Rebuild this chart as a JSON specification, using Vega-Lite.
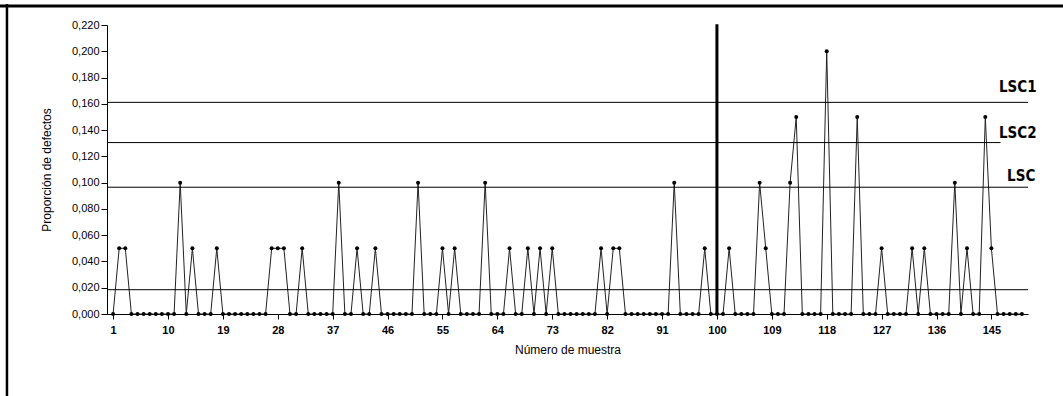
{
  "$schema": "https://vega.github.io/schema/vega-lite/v6.json",
  "width": 921,
  "height": 289,
  "autosize": "none",
  "padding": {"left": 107, "top": 25, "right": 35, "bottom": 82},
  "background": "white",
  "data": {"values": [{}]},
  "config": {
    "view": {"stroke": null},
    "font": "Liberation Sans",
    "locale": {
      "number": {"decimal": ",", "thousands": ".", "grouping": [3], "currency": ["", " €"]}
    },
    "axis": {
      "grid": false,
      "domainColor": "#000",
      "tickColor": "#000",
      "labelColor": "#000",
      "titleColor": "#000",
      "labelFont": "Liberation Sans",
      "titleFont": "Liberation Sans",
      "labelFontSize": 11,
      "titleFontSize": 12,
      "titleFontWeight": "normal",
      "labelOverlap": false
    }
  },
  "datasets": {
    "muestras": [
      {"muestra": 1, "p": 0}, {"muestra": 2, "p": 0.05}, {"muestra": 3, "p": 0.05}, {"muestra": 4, "p": 0}, {"muestra": 5, "p": 0},
      {"muestra": 6, "p": 0}, {"muestra": 7, "p": 0}, {"muestra": 8, "p": 0}, {"muestra": 9, "p": 0}, {"muestra": 10, "p": 0},
      {"muestra": 11, "p": 0}, {"muestra": 12, "p": 0.1}, {"muestra": 13, "p": 0}, {"muestra": 14, "p": 0.05}, {"muestra": 15, "p": 0},
      {"muestra": 16, "p": 0}, {"muestra": 17, "p": 0}, {"muestra": 18, "p": 0.05}, {"muestra": 19, "p": 0}, {"muestra": 20, "p": 0},
      {"muestra": 21, "p": 0}, {"muestra": 22, "p": 0}, {"muestra": 23, "p": 0}, {"muestra": 24, "p": 0}, {"muestra": 25, "p": 0},
      {"muestra": 26, "p": 0}, {"muestra": 27, "p": 0.05}, {"muestra": 28, "p": 0.05}, {"muestra": 29, "p": 0.05}, {"muestra": 30, "p": 0},
      {"muestra": 31, "p": 0}, {"muestra": 32, "p": 0.05}, {"muestra": 33, "p": 0}, {"muestra": 34, "p": 0}, {"muestra": 35, "p": 0},
      {"muestra": 36, "p": 0}, {"muestra": 37, "p": 0}, {"muestra": 38, "p": 0.1}, {"muestra": 39, "p": 0}, {"muestra": 40, "p": 0},
      {"muestra": 41, "p": 0.05}, {"muestra": 42, "p": 0}, {"muestra": 43, "p": 0}, {"muestra": 44, "p": 0.05}, {"muestra": 45, "p": 0},
      {"muestra": 46, "p": 0}, {"muestra": 47, "p": 0}, {"muestra": 48, "p": 0}, {"muestra": 49, "p": 0}, {"muestra": 50, "p": 0},
      {"muestra": 51, "p": 0.1}, {"muestra": 52, "p": 0}, {"muestra": 53, "p": 0}, {"muestra": 54, "p": 0}, {"muestra": 55, "p": 0.05},
      {"muestra": 56, "p": 0}, {"muestra": 57, "p": 0.05}, {"muestra": 58, "p": 0}, {"muestra": 59, "p": 0}, {"muestra": 60, "p": 0},
      {"muestra": 61, "p": 0}, {"muestra": 62, "p": 0.1}, {"muestra": 63, "p": 0}, {"muestra": 64, "p": 0}, {"muestra": 65, "p": 0},
      {"muestra": 66, "p": 0.05}, {"muestra": 67, "p": 0}, {"muestra": 68, "p": 0}, {"muestra": 69, "p": 0.05}, {"muestra": 70, "p": 0},
      {"muestra": 71, "p": 0.05}, {"muestra": 72, "p": 0}, {"muestra": 73, "p": 0.05}, {"muestra": 74, "p": 0}, {"muestra": 75, "p": 0},
      {"muestra": 76, "p": 0}, {"muestra": 77, "p": 0}, {"muestra": 78, "p": 0}, {"muestra": 79, "p": 0}, {"muestra": 80, "p": 0},
      {"muestra": 81, "p": 0.05}, {"muestra": 82, "p": 0}, {"muestra": 83, "p": 0.05}, {"muestra": 84, "p": 0.05}, {"muestra": 85, "p": 0},
      {"muestra": 86, "p": 0}, {"muestra": 87, "p": 0}, {"muestra": 88, "p": 0}, {"muestra": 89, "p": 0}, {"muestra": 90, "p": 0},
      {"muestra": 91, "p": 0}, {"muestra": 92, "p": 0}, {"muestra": 93, "p": 0.1}, {"muestra": 94, "p": 0}, {"muestra": 95, "p": 0},
      {"muestra": 96, "p": 0}, {"muestra": 97, "p": 0}, {"muestra": 98, "p": 0.05}, {"muestra": 99, "p": 0}, {"muestra": 100, "p": 0},
      {"muestra": 101, "p": 0}, {"muestra": 102, "p": 0.05}, {"muestra": 103, "p": 0}, {"muestra": 104, "p": 0}, {"muestra": 105, "p": 0},
      {"muestra": 106, "p": 0}, {"muestra": 107, "p": 0.1}, {"muestra": 108, "p": 0.05}, {"muestra": 109, "p": 0}, {"muestra": 110, "p": 0},
      {"muestra": 111, "p": 0}, {"muestra": 112, "p": 0.1}, {"muestra": 113, "p": 0.15}, {"muestra": 114, "p": 0}, {"muestra": 115, "p": 0},
      {"muestra": 116, "p": 0}, {"muestra": 117, "p": 0}, {"muestra": 118, "p": 0.2}, {"muestra": 119, "p": 0}, {"muestra": 120, "p": 0},
      {"muestra": 121, "p": 0}, {"muestra": 122, "p": 0}, {"muestra": 123, "p": 0.15}, {"muestra": 124, "p": 0}, {"muestra": 125, "p": 0},
      {"muestra": 126, "p": 0}, {"muestra": 127, "p": 0.05}, {"muestra": 128, "p": 0}, {"muestra": 129, "p": 0}, {"muestra": 130, "p": 0},
      {"muestra": 131, "p": 0}, {"muestra": 132, "p": 0.05}, {"muestra": 133, "p": 0}, {"muestra": 134, "p": 0.05}, {"muestra": 135, "p": 0},
      {"muestra": 136, "p": 0}, {"muestra": 137, "p": 0}, {"muestra": 138, "p": 0}, {"muestra": 139, "p": 0.1}, {"muestra": 140, "p": 0},
      {"muestra": 141, "p": 0.05}, {"muestra": 142, "p": 0}, {"muestra": 143, "p": 0}, {"muestra": 144, "p": 0.15}, {"muestra": 145, "p": 0.05},
      {"muestra": 146, "p": 0}, {"muestra": 147, "p": 0}, {"muestra": 148, "p": 0}, {"muestra": 149, "p": 0}, {"muestra": 150, "p": 0}
    ],
    "limites": [
      {"limite": "LSC1", "p": 0.1611, "inicio": 0, "fin": 151},
      {"limite": "LSC2", "p": 0.1305, "inicio": 0, "fin": 146.5},
      {"limite": "LSC", "p": 0.0965, "inicio": 0, "fin": 151},
      {"limite": "LC", "p": 0.0185, "inicio": 0, "fin": 151}
    ]
  },
  "layer": [
    {
      "data": {"name": "muestras"},
      "mark": {"type": "line", "color": "#222", "strokeWidth": 1, "point": {"filled": true, "color": "#000", "size": 16}},
      "encoding": {
        "x": {
          "field": "muestra",
          "type": "quantitative",
          "title": "Número de muestra",
          "scale": {"domain": [0, 151], "nice": false, "zero": false},
          "axis": {
            "values": [1, 10, 19, 28, 37, 46, 55, 64, 73, 82, 91, 100, 109, 118, 127, 136, 145],
            "tickCount": 40,
            "format": "d",
            "tickSize": 5,
            "labelPadding": 5,
            "titlePadding": 9,
            "labelFontWeight": "bold",
            "labelOverlap": false
          }
        },
        "y": {
          "field": "p",
          "type": "quantitative",
          "title": "Proporción de defectos",
          "scale": {"domain": [0, 0.22], "nice": false},
          "axis": {
            "values": [0, 0.02, 0.04, 0.06, 0.08, 0.1, 0.12, 0.14, 0.16, 0.18, 0.2, 0.22],
            "tickCount": 30,
            "format": ".3f",
            "tickSize": 6,
            "labelPadding": 2,
            "titlePadding": 18,
            "labelOverlap": false
          }
        }
      }
    },
    {
      "data": {"name": "limites"},
      "mark": {"type": "rule", "color": "#000", "strokeWidth": 1},
      "encoding": {
        "x": {"field": "inicio", "type": "quantitative", "title": "Número de muestra"},
        "x2": {"field": "fin"},
        "y": {"field": "p", "type": "quantitative", "title": "Proporción de defectos"}
      }
    },
    {
      "mark": {"type": "rule", "color": "#000", "strokeWidth": 3},
      "encoding": {
        "x": {"datum": 100, "type": "quantitative"},
        "y": {"datum": 0, "type": "quantitative"},
        "y2": {"datum": 0.2205}
      }
    },
    {
      "mark": {"type": "text", "align": "right", "baseline": "bottom", "dy": -7, "font": "'DejaVu Sans Condensed', 'Liberation Sans'", "fontWeight": "bold", "fontSize": 15, "color": "#000"},
      "encoding": {
        "x": {"datum": 152.4, "type": "quantitative"},
        "y": {"datum": 0.1611, "type": "quantitative"},
        "text": {"value": "LSC1"}
      }
    },
    {
      "mark": {"type": "text", "align": "right", "baseline": "bottom", "dy": -2, "font": "'DejaVu Sans Condensed', 'Liberation Sans'", "fontWeight": "bold", "fontSize": 15, "color": "#000"},
      "encoding": {
        "x": {"datum": 152.4, "type": "quantitative"},
        "y": {"datum": 0.1305, "type": "quantitative"},
        "text": {"value": "LSC2"}
      }
    },
    {
      "mark": {"type": "text", "align": "right", "baseline": "bottom", "dy": -3, "font": "'DejaVu Sans Condensed', 'Liberation Sans'", "fontWeight": "bold", "fontSize": 15, "color": "#000"},
      "encoding": {
        "x": {"datum": 152.2, "type": "quantitative"},
        "y": {"datum": 0.0965, "type": "quantitative"},
        "text": {"value": "LSC"}
      }
    },
    {
      "mark": {"type": "rule", "color": "#000", "strokeWidth": 3},
      "encoding": {
        "x": {"datum": -17.6, "type": "quantitative"},
        "x2": {"datum": 157},
        "y": {"datum": 0.2345, "type": "quantitative"}
      }
    },
    {
      "mark": {"type": "rule", "color": "#000", "strokeWidth": 2.5},
      "encoding": {
        "x": {"datum": -16.4, "type": "quantitative"},
        "y": {"datum": 0.236, "type": "quantitative"},
        "y2": {"datum": -0.07}
      }
    }
  ]
}
